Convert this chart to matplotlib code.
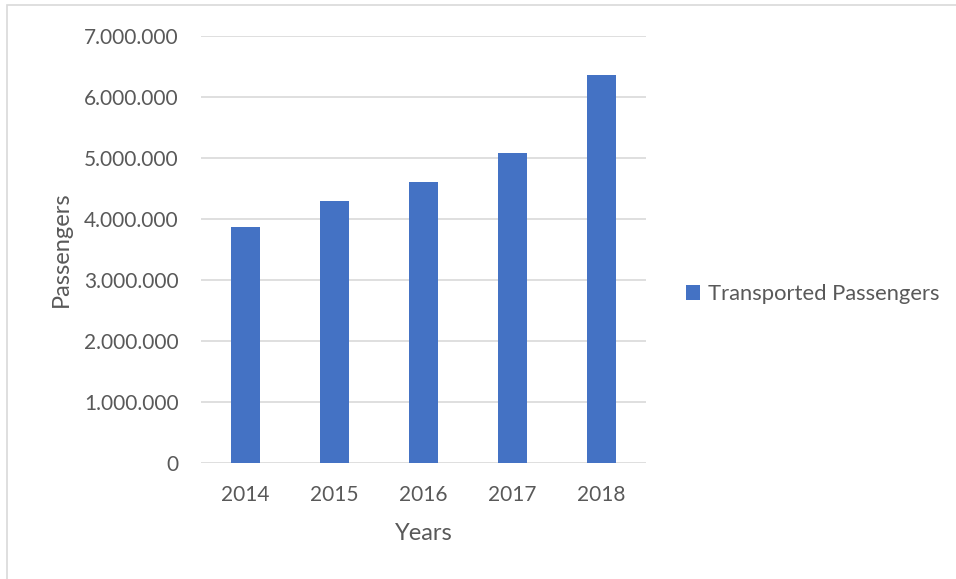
import matplotlib.pyplot as plt
from matplotlib.patches import Rectangle
from matplotlib.ticker import FuncFormatter

years = ['2014', '2015', '2016', '2017', '2018']
passengers = [3865000, 4287000, 4608000, 5086000, 6354000]
y_ticks = [0, 1000000, 2000000, 3000000, 4000000, 5000000, 6000000, 7000000]

plt.rcParams['font.family'] = ['Lato', 'DejaVu Sans']
text_color = '#595959'
bar_color = '#4472C4'
grid_color = '#D9D9D9'

fig = plt.figure(figsize=(9.56, 5.79), dpi=100)
ax = fig.add_axes([201 / 956, 1 - 463 / 579, 445 / 956, 427 / 579])

x = range(len(years))
ax.bar(x, passengers, width=0.315, color=bar_color, label='Transported Passengers', zorder=3)

ax.set_xlim(-0.5, len(years) - 0.5)
ax.set_ylim(0, 7000000)
ax.set_yticks(y_ticks)
ax.yaxis.set_major_formatter(FuncFormatter(lambda v, p: f'{int(v):,}'.replace(',', '.')))
ax.set_xticks(list(x))
ax.set_xticklabels(years)

ax.grid(axis='y', color=grid_color, linewidth=1.2, zorder=0)
for s in ax.spines.values():
    s.set_visible(False)
ax.tick_params(length=0, labelsize=15, labelcolor=text_color)
ax.tick_params(axis='y', pad=16)
ax.tick_params(axis='x', pad=16)

ax.set_xlabel('Years', fontsize=17, color=text_color, labelpad=13)
ax.set_ylabel('Passengers', fontsize=17, color=text_color, labelpad=9)

ax.legend(loc='center left', bbox_to_anchor=(686 / 956, 1 - 294 / 579),
          bbox_transform=fig.transFigure, frameon=False, borderpad=0, borderaxespad=0,
          fontsize=15.8, labelcolor=text_color, handlelength=0.65, handleheight=0.65,
          handletextpad=0.35)

fig.patches.append(Rectangle((7 / 956, -0.1), 1.2, 1 - 5 / 579 + 0.1,
                             transform=fig.transFigure, fill=False,
                             edgecolor=grid_color, linewidth=1.2))

fig.savefig('out.png', dpi=100)
